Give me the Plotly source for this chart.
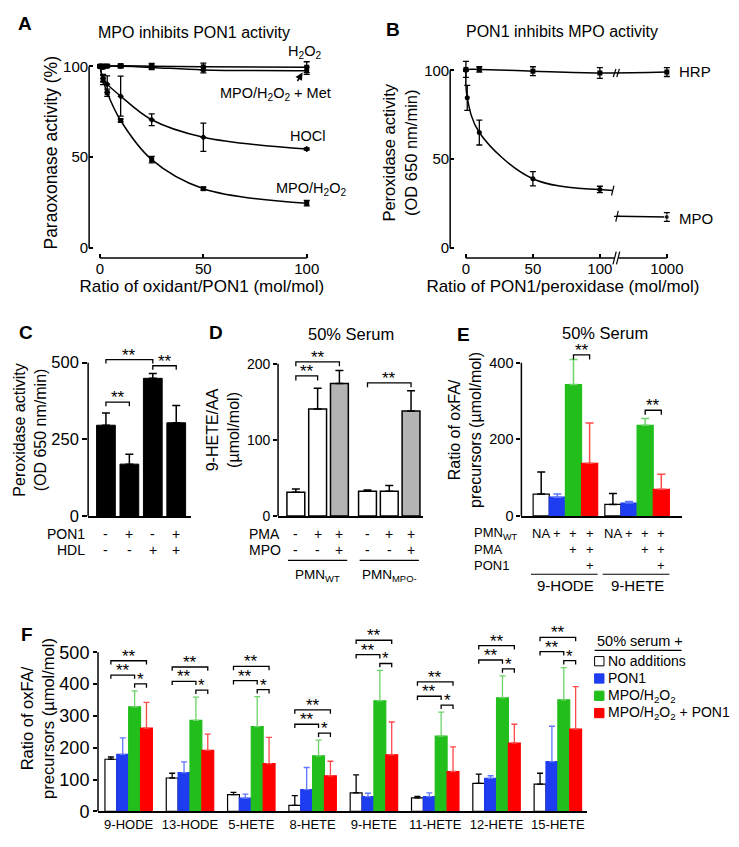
import plotly.graph_objects as go

W, H = 739, 847
FONT = "Liberation Sans, Arial, Helvetica, sans-serif"

# ======================= DATA =======================
# Panel A - MPO inhibits PON1 activity (paraoxonase activity, %)
a_ratio = [0, 1.5, 3.5, 10, 25, 50, 100]
a_h2o2 = [100, 100.2, 100.2, 100.3, 100.1, 99.7, 99.5]
a_h2o2_sd = [0.6, 0.6, 0.6, 1.0, 1.5, 2.0, 3.0]
a_met = [100, 99.3, 100, 100, 99.4, 98.0, 97.6]
a_met_sd = [0.5, 0.6, 0.5, 0.8, 1.2, 1.6, 2.0]
a_hocl = [100, 93.5, 90.2, 83.6, 70.6, 61.0, 54.5]
a_hocl_sd = [0.6, 2.0, 4.5, 11.0, 3.2, 7.8, 0.6]
a_mpo = [100, 92.4, 85.5, 70.2, 48.7, 32.7, 24.7]
a_mpo_sd = [0.6, 2.5, 2.0, 0.8, 1.8, 0.8, 1.5]
a_names = ["H<sub>2</sub>O<sub>2</sub>", "MPO/H<sub>2</sub>O<sub>2</sub> + Met",
           "HOCl", "MPO/H<sub>2</sub>O<sub>2</sub>"]
a_ticks = [0, 50, 100]

# Panel B - PON1 inhibits MPO activity (peroxidase activity)
b_hrp_ratio = [0, 10, 50, 100, 1000]
b_hrp = [100.5, 100.5, 99.5, 98.5, 99.0]
b_hrp_sd = [4.5, 1.5, 2.5, 3.0, 2.5]
b_mpo_ratio = [0, 1, 10, 50, 100, 1000]
b_mpo = [100, 84.5, 65.0, 39.0, 33.0, 17.5]
b_mpo_sd = [0.5, 7.0, 7.0, 4.0, 1.8, 2.5]
b_names = ["HRP", "MPO"]
b_ticks = [0, 50, 100, 1000]

# Panel C - peroxidase activity
c_vals = [296, 169, 449, 304]
c_sd = [40, 32, 16, 56]
c_pon1 = ["-", "+", "-", "+"]
c_hdl = ["-", "-", "+", "+"]
c_pairs = [(0, 2, "**"), (2, 3, "**"), (0, 1, "**")]

# Panel D - 9-HETE/AA, 50% serum
d_vals = [31, 140.7, 174, 32.5, 32.5, 138]
d_sd = [4.5, 27, 17, 1.5, 7.5, 26.5]
d_pma = ["-", "+", "+", "-", "+", "+"]
d_mpo = ["-", "-", "+", "-", "-", "+"]
d_groups = ["PMN<sub>WT</sub>", "PMN<sub>MPO-</sub>"]
d_pairs = [(0, 2, "**"), (0, 1, "**"), (3, 5, "**")]

# Series shared by E and F
series_names = ["No additions", "PON1", "MPO/H<sub>2</sub>O<sub>2</sub>",
                "MPO/H<sub>2</sub>O<sub>2</sub> + PON1"]

# Panel E - ratio oxFA / precursors, 50% serum
e_groups = ["9-HODE", "9-HETE"]
e_vals = [[57, 30], [49, 33.5], [343, 236.6], [137.6, 69.7]]
e_sd = [[58, 28.5], [8.6, 4.5], [65.6, 18], [105, 39.3]]
e_row_pmn = ["NA", "+", "+", "+"]
e_row_pma = ["", "", "+", "+"]
e_row_pon1 = ["", "", "", "+"]
e_pairs = [(2, 3, "**")]

# Panel F
f_cats = ["9-HODE", "13-HODE", "5-HETE", "8-HETE", "9-HETE", "11-HETE", "12-HETE", "15-HETE"]
f_none = [164, 105, 53, 18.7, 58, 42.5, 88, 86]
f_none_sd = [7, 15, 7, 31, 57, 5, 29, 34]
f_pon1 = [179.5, 122, 41.5, 68.5, 46.7, 46.7, 104, 156.6]
f_pon1_sd = [51.5, 33.6, 12.5, 69.5, 10.3, 11.3, 8, 111]
f_mpo = [329, 286, 266.6, 175, 347.5, 236.5, 357, 350.6]
f_mpo_sd = [49.6, 73, 94.4, 49, 95.5, 75.5, 69, 101.4]
f_both = [262, 192, 150, 112, 178, 125.5, 215, 259]
f_both_sd = [81, 51, 83, 45.7, 103, 77.5, 59, 133]
f_pairs = [(2, 3, "*"), (0, 2, "**"), (0, 3, "**")]

# ======================= STYLE =======================
BAR_COLORS = ["white", "#1e3cf0", "#22bf1c", "#ff0000"]
ERR_COLORS = ["black", "#6078ff", "#6cd468", "#ff4a4a"]
D_GRAY = "#b4b4b4"

fig = go.Figure()


def fx(p):
    return p / W


def fy(p):
    return 1 - p / H


def txt(text, x, y, size, xanchor="center", yanchor="middle", xref="paper", yref="paper",
        bold=False, **kw):
    if xref == "paper":
        x = fx(x)
    if yref == "paper":
        y = fy(y)
    fig.add_annotation(text=(f"<b>{text}</b>" if bold else text), x=x, y=y, xref=xref, yref=yref,
                       showarrow=False, xanchor=xanchor, yanchor=yanchor,
                       font=dict(family=FONT, size=size, color="black"), **kw)


def seg(x0, y0, x1, y1, xref, yref, width=1.5, color="black"):
    fig.add_shape(type="line", x0=x0, y0=y0, x1=x1, y1=y1, xref=xref, yref=yref,
                  line=dict(color=color, width=width))


def bracket(xr, yr, x0, x1, y, drop, label):
    fig.add_shape(type="path", path=f"M {x0},{y - drop} L {x0},{y} L {x1},{y} L {x1},{y - drop}",
                  xref=xr, yref=yr, line=dict(color="black", width=1.3))
    fig.add_annotation(x=(x0 + x1) / 2, y=y, xref=xr, yref=yr, text=label, showarrow=False,
                       xanchor="center", yanchor="bottom", yshift=-7,
                       font=dict(family=FONT, size=17, color="black"))


def ax(domain, rng, **kw):
    d = dict(domain=domain, range=rng, showgrid=False, zeroline=False, showline=False,
             linecolor="black", linewidth=1.5, ticks="outside", ticklen=4, tickwidth=1.5,
             tickcolor="black", tickfont=dict(family=FONT, size=15, color="black"),
             fixedrange=True)
    d.update(kw)
    return d


def title(text, size, standoff=4):
    return dict(text=text, font=dict(family=FONT, size=size, color="black"), standoff=standoff)


# ======================= PANEL A =======================
a_sym = ["square", "circle", "diamond", "square"]
for name, vals, sd, sym in zip(a_names, [a_h2o2, a_met, a_hocl, a_mpo],
                               [a_h2o2_sd, a_met_sd, a_hocl_sd, a_mpo_sd], a_sym):
    fig.add_trace(go.Scatter(
        x=a_ratio, y=vals, name=name, mode="lines+markers", xaxis="x", yaxis="y",
        line=dict(color="black", width=1.5, shape="spline", smoothing=1.0),
        marker=dict(symbol=sym, size=5, color="black"),
        error_y=dict(type="data", array=sd, color="black", thickness=1.3, width=3),
        cliponaxis=False, showlegend=False))

seg(0, 0, 0, max(a_ticks), "x domain", "y")
seg(min(a_ticks), 0, max(a_ticks), 0, "x", "y domain")

a_label_px = [(300, 45, "center"), (270, 87, "center"), (303, 130, "center"), (306, 183, "center")]
for name, (lx, ly, anc) in zip(a_names, a_label_px):
    txt(name, lx, ly, 14.5, xanchor=anc)
fig.add_annotation(x=98, y=96.6, xref="x", yref="y", ax=-6, ay=10, text="", showarrow=True,
                   arrowhead=2, arrowsize=1, arrowwidth=1.5, arrowcolor="black", standoff=0)
txt("A", 17.5, 16, 19, bold=True)
txt("MPO inhibits PON1 activity", 188, 24.5, 16)

# ======================= PANEL B =======================
B_BREAK_POS = 150


def b_pos(v):
    return v if v <= 100 else B_BREAK_POS


B_MPO_CUT = (109.6, 112.8)
B_AX_CUT = (111.0, 113.6)

fig.add_trace(go.Scatter(
    x=[b_pos(v) for v in b_hrp_ratio], y=b_hrp, mode="lines+markers", xaxis="x2", yaxis="y2",
    line=dict(color="black", width=1.5, shape="spline"), marker=dict(symbol="square", size=5, color="black"),
    error_y=dict(type="data", array=b_hrp_sd, color="black", thickness=1.3, width=3),
    cliponaxis=False, showlegend=False))
n_low = len([v for v in b_mpo_ratio if v <= 100])
fig.add_trace(go.Scatter(
    x=[b_pos(v) for v in b_mpo_ratio[:n_low]], y=b_mpo[:n_low], mode="lines+markers",
    xaxis="x2", yaxis="y2", line=dict(color="black", width=1.5, shape="spline"),
    marker=dict(symbol="circle", size=5, color="black"),
    error_y=dict(type="data", array=b_mpo_sd[:n_low], color="black", thickness=1.3, width=3),
    cliponaxis=False, showlegend=False))
# continuation of the MPO curve up to the axis break
fig.add_trace(go.Scatter(x=[b_pos(b_mpo_ratio[n_low - 1]), B_MPO_CUT[0]],
                         y=[b_mpo[n_low - 1], b_mpo[n_low - 1] - 0.6], mode="lines",
                         xaxis="x2", yaxis="y2", line=dict(color="black", width=1.5),
                         showlegend=False))
fig.add_trace(go.Scatter(x=[B_MPO_CUT[1], b_pos(b_mpo_ratio[-1])], y=[b_mpo[-1] + 0.4, b_mpo[-1]],
                         mode="lines+markers", xaxis="x2", yaxis="y2",
                         line=dict(color="black", width=1.5),
                         marker=dict(symbol="circle", size=[0, 5], color="black"),
                         error_y=dict(type="data", array=[0, b_mpo_sd[-1]], color="black",
                                      thickness=1.3, width=3),
                         cliponaxis=False, showlegend=False))
# break marks
seg(B_MPO_CUT[0] - 0.9, b_mpo[n_low - 1] - 3.4, B_MPO_CUT[0] + 0.9, b_mpo[n_low - 1] + 2.2, "x2", "y2", 1.2)
seg(B_MPO_CUT[1] - 0.9, b_mpo[-1] - 2.6, B_MPO_CUT[1] + 0.9, b_mpo[-1] + 3.4, "x2", "y2", 1.2)
for c in B_AX_CUT:
    seg(c - 1.0, b_hrp[-2] - 2.3, c + 1.0, b_hrp[-2] + 2.3, "x2", "y2", 1.2)
    seg(c - 1.2, -0.03, c + 1.2, 0.03, "x2", "y2 domain", 1.2)
seg(0, 0, 0, 100, "x2 domain", "y2")
seg(b_pos(b_ticks[0]), 0, B_AX_CUT[0], 0, "x2", "y2 domain")
seg(B_AX_CUT[1], 0, b_pos(b_ticks[-1]), 0, "x2", "y2 domain")

txt(b_names[0], 676, 64, 15, xanchor="left")
txt(b_names[1], 676, 213, 15, xanchor="left")
txt("B", 389, 22, 19, bold=True)
txt("PON1 inhibits MPO activity", 560, 24, 16)


def cell(text, xval, ypx, xref, size):
    fig.add_annotation(x=xval, y=fy(ypx), xref=xref, yref="paper", text=text, showarrow=False,
                       xanchor="center", yanchor="middle",
                       font=dict(family=FONT, size=size, color="black"))


# ======================= PANEL C =======================
c_x = list(range(len(c_vals)))
fig.add_trace(go.Bar(x=c_x, y=c_vals, width=0.8, xaxis="x3", yaxis="y3",
                     marker=dict(color="black", line=dict(color="black", width=1)),
                     error_y=dict(type="data", array=c_sd, arrayminus=[0] * len(c_sd), symmetric=False,
                                  color="black", thickness=1.5, width=4),
                     showlegend=False))
seg(0, 0, 0, 500, "x3 domain", "y3")
C_SIG_Y = [510, 490, 371]
for (i, j, lab), yy in zip(c_pairs, C_SIG_Y):
    bracket("x3", "y3", c_x[i], c_x[j], yy, 13, lab)
txt("PON1", 80, 532, 14, xanchor="right")
txt("HDL", 80, 548, 14, xanchor="right")
for xi, s1, s2 in zip(c_x, c_pon1, c_hdl):
    cell(s1, xi, 532, "x3", 14)
    cell(s2, xi, 548, "x3", 14)
txt("C", 18.5, 328.5, 19, bold=True)

# ======================= PANEL D =======================
D_GROUP_GAP = 0.29
d_pos = [g * (3 + D_GROUP_GAP) + k for g in range(len(d_groups)) for k in range(3)]
d_colors = [D_GRAY if m == "+" else "white" for m in d_mpo]
fig.add_trace(go.Bar(x=d_pos, y=d_vals, width=0.82, xaxis="x4", yaxis="y4",
                     marker=dict(color=d_colors, line=dict(color="black", width=1.5)),
                     error_y=dict(type="data", array=d_sd, arrayminus=[0] * len(d_sd), symmetric=False,
                                  color="black", thickness=1.5, width=4),
                     showlegend=False))
seg(0, 0, 0, 200, "x4 domain", "y4")
D_SIG_Y = [202.6, 184, 175]
for (i, j, lab), yy in zip(d_pairs, D_SIG_Y):
    bracket("x4", "y4", d_pos[i], d_pos[j], yy, 6, lab)
txt("PMA", 242, 532, 14, xanchor="left")
txt("MPO", 242, 548, 14, xanchor="left")
for xi, s1, s2 in zip(d_pos, d_pma, d_mpo):
    cell(s1, xi, 532, "x4", 14)
    cell(s2, xi, 548, "x4", 14)
for g, gname in enumerate(d_groups):
    p0, p1 = d_pos[g * 3], d_pos[g * 3 + 2]
    seg(p0 - 0.36, fy(559), p1 + 0.36, fy(559), "x4", "paper", 1.2)
    cell(gname, (p0 + p1) / 2, 574, "x4", 13.5)
txt("D", 210.5, 328.5, 19, bold=True)
txt("50% Serum", 347, 330, 16.5)

# ======================= PANEL E =======================
E_W = 0.225
for k, name in enumerate(series_names):
    xs = [g + (k - 1.5) * E_W for g in range(len(e_groups))]
    fig.add_trace(go.Bar(x=xs, y=e_vals[k], width=E_W, xaxis="x5", yaxis="y5", name=name,
                         marker=dict(color=BAR_COLORS[k],
                                     line=dict(color="black" if k == 0 else BAR_COLORS[k], width=1.2)),
                         error_y=dict(type="data", array=e_sd[k], arrayminus=[0] * len(e_groups),
                                      symmetric=False, color=ERR_COLORS[k], thickness=1.5, width=4),
                         showlegend=False))
seg(0, 0, 0, 400, "x5 domain", "y5")
E_SIG_Y = [[420.6, 276]]
for (i, j, lab), ys in zip(e_pairs, E_SIG_Y):
    for g, yy in enumerate(ys):
        bracket("x5", "y5", g + (i - 1.5) * E_W, g + (j - 1.5) * E_W, yy, 12, lab)
txt("PMN<sub>WT</sub>", 469, 532, 13, xanchor="left")
txt("PMA", 469, 548, 13, xanchor="left")
txt("PON1", 469, 564, 13, xanchor="left")
for g, gname in enumerate(e_groups):
    for k in range(4):
        xk = g + (k - 1.5) * E_W
        for row, ypx in [(e_row_pmn, 532), (e_row_pma, 548), (e_row_pon1, 564)]:
            if row[k]:
                cell(row[k], xk, ypx, "x5", 13)
    seg(g - 2 * E_W - 0.03, fy(573), g + 2 * E_W, fy(573), "x5", "paper", 1.2)
    cell(gname, g, 584, "x5", 15)
txt("E", 460, 330, 19, bold=True)
txt("50% Serum", 604, 329, 16.5)

# ======================= PANEL F =======================
F_W = 0.1935
f_vals = [f_none, f_pon1, f_mpo, f_both]
f_sds = [f_none_sd, f_pon1_sd, f_mpo_sd, f_both_sd]
for k, name in enumerate(series_names):
    xs = [g + (k - 1.5) * F_W for g in range(len(f_cats))]
    fig.add_trace(go.Bar(x=xs, y=f_vals[k], width=F_W, xaxis="x6", yaxis="y6", name=name,
                         marker=dict(color=BAR_COLORS[k],
                                     line=dict(color="black" if k == 0 else BAR_COLORS[k], width=1.2)),
                         error_y=dict(type="data", array=f_sds[k], arrayminus=[0] * len(f_cats),
                                      symmetric=False, color=ERR_COLORS[k], thickness=1.3, width=3),
                         showlegend=False))
seg(0, 0, 0, 500, "x6 domain", "y6")
F_GAP, F_STEP1, F_STEP2 = 22, 28, 45
for g in range(len(f_cats)):
    tops = [f_vals[k][g] + f_sds[k][g] for k in range(4)]
    low = max(tops[2], tops[3]) + F_GAP
    levels = [low, low + F_STEP1, low + F_STEP1 + F_STEP2]
    for (i, j, lab), yy in zip(f_pairs, levels):
        bracket("x6", "y6", g + (i - 1.5) * F_W, g + (j - 1.5) * F_W, yy, 12, lab)
txt("F", 19, 633.5, 19, bold=True)

# legend for F
txt("50% serum +", 593, 641, 14.5, xanchor="left")
fig.add_shape(type="line", x0=fx(593), x1=fx(681), y0=fy(650), y1=fy(650), xref="paper", yref="paper",
              line=dict(color="black", width=1.2))
for k, name in enumerate(series_names):
    yc = 661 + k * 17.5
    fig.add_shape(type="rect", x0=fx(593), x1=fx(602.5), y0=fy(yc + 4.7), y1=fy(yc - 4.7),
                  xref="paper", yref="paper", fillcolor=BAR_COLORS[k],
                  line=dict(color="black" if k == 0 else BAR_COLORS[k], width=1))
    txt(name, 605, yc, 14, xanchor="left")

# ======================= LAYOUT =======================
fig.update_layout(
    width=W, height=H, autosize=False, margin=dict(l=0, r=0, t=0, b=0),
    paper_bgcolor="white", plot_bgcolor="white", showlegend=False, barmode="overlay",
    font=dict(family=FONT, color="black"),
    xaxis=ax([fx(82), fx(310)], [-5.26, 103.83], anchor="y", tickvals=a_ticks, ticks="inside",
             title=title("Ratio of oxidant/PON1 (mol/mol)", 17, 2)),
    yaxis=ax([fy(253), fy(40)], [-5.43, 110.33], anchor="x", tickvals=a_ticks, ticks="inside",
             title=title("Paraoxonase activity (%)", 17.5, 0)),
    xaxis2=ax([fx(447), fx(675)], [-11.76, 156.6], anchor="y2", ticks="inside",
              tickvals=[b_pos(v) for v in b_ticks], ticktext=[str(v) for v in b_ticks],
              title=title("Ratio of PON1/peroxidase (mol/mol)", 17, 2)),
    yaxis2=ax([fy(253), fy(40)], [-5.56, 112.8], anchor="x2", tickvals=[0, 50, 100], ticks="inside",
              title=title("Peroxidase activity<br>(OD 650 nm/min)", 16.5, 2)),
    xaxis3=ax([fx(81), fx(185)], [-0.76, 3.63], anchor="y3", showline=True, ticks="",
              showticklabels=False),
    yaxis3=ax([fy(514), fy(340)], [0, 561], anchor="x3", tickvals=[0, 250, 500],
              tickfont=dict(family=FONT, size=16.5, color="black"), ticklen=5,
              title=title("Peroxidase activity<br>(OD 650 nm/min)", 16, 0)),
    xaxis4=ax([fx(273), fx(420)], [-0.818, 5.86], anchor="y4", showline=True, ticks="",
              showticklabels=False),
    yaxis4=ax([fy(514), fy(340)], [0, 226], anchor="x4", tickvals=[0, 100, 200],
              tickfont=dict(family=FONT, size=14, color="black"),
              title=title("9-HETE/AA<br>(µmol/mol)", 16, 3)),
    xaxis5=ax([fx(519), fx(681)], [-0.614, 1.621], anchor="y5", showline=True, ticks="",
              showticklabels=False),
    yaxis5=ax([fy(514), fy(340)], [0, 449], anchor="x5", tickvals=[0, 200, 400],
              tickfont=dict(family=FONT, size=14.5, color="black"),
              title=title("Ratio of oxFA/<br>precursors (µmol/mol)", 16, 3)),
    xaxis6=ax([fx(91), fx(585)], [-0.5, 7.47], anchor="y6", showline=True, ticks="",
              tickvals=list(range(len(f_cats))), ticktext=f_cats,
              tickfont=dict(family=FONT, size=13, color="black")),
    yaxis6=ax([fy(813), fy(625)], [0, 584], anchor="x6", tickvals=[0, 100, 200, 300, 400, 500],
              tickfont=dict(family=FONT, size=18, color="black"),
              title=title("Ratio of oxFA/<br>precursors (µmol/mol)", 16.5, 0)),
)

fig.write_html("out.html")
